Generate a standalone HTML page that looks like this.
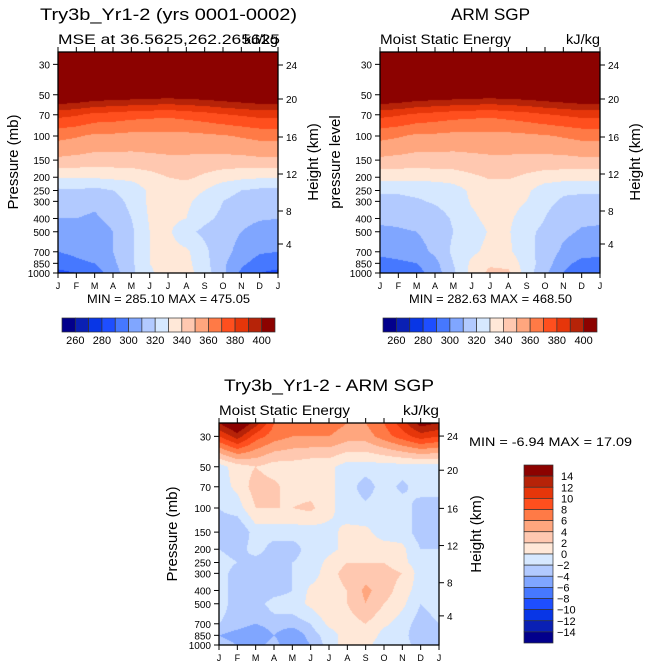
<!DOCTYPE html>
<html><head><meta charset="utf-8">
<style>
html,body{margin:0;padding:0;background:#fff;}
body{width:649px;height:669px;position:relative;overflow:hidden;font-family:"Liberation Sans",sans-serif;}
canvas{position:absolute;left:0;top:0;}
svg{position:absolute;left:0;top:0;}
</style></head>
<body>
<canvas id="cv" width="649" height="669"></canvas>
<svg id="sv" width="649" height="669"></svg>
<script>
const months = ['J','F','M','A','M','J','J','A','S','O','N','D','J'];
const levels = [1000,850,700,500,400,300,250,200,150,100,70,50,30,24];
const pressureTicks = [30,50,70,100,150,200,250,300,400,500,700,850,1000];
const heightTicks = [24,20,16,12,8,4];
const mseColorbarLabels = [260,280,300,320,340,360,380,400];
const diffColorbarLabels = [14,12,10,8,6,4,2,0,-2,-4,-6,-8,-10,-12,-14];
const mseThresholds = [260,270,280,290,300,310,320,330,340,350,360,370,380,390,400];
const diffThresholds = [-14,-12,-10,-8,-6,-4,-2,0,2,4,6,8,10,12,14];
const colors = ['#02008c','#0a20b4','#0836e6','#1e4eff','#4678ff','#80a6ff','#b2caff','#d6e8ff','#ffe8d8','#ffc8b0','#ffa67e','#ff7a46','#ff4f1e','#e6360a','#b62308','#8c0200'];

const modelMSE = [
 [287,290,295,305,318,328,336,334,325,312,298,290,287],
 [295,298,300,308,318,330,335,333,323,312,302,296,295],
 [300,302,305,310,318,330,334,332,322,314,306,301,300],
 [306,305,302,310,318,330,332,322,318,315,310,305,306],
 [310,310,308,314,320,331,333,330,322,318,314,311,310],
 [314,315,313,317,322,332,333,332,326,320,317,314,314],
 [318,319,317,320,323,332,334,334,330,323,320,318,318],
 [331,331,331,332,333,336,340,342,338,334,332,331,331],
 [348,347,346,346,346,347,348,348,347,347,347,348,348],
 [363,361,358,358,357,357,357,357,358,359,361,363,363],
 [383,381,377,376,374,373,372,374,376,379,381,383,383],
 [415,413,410,409,408,407,406,407,408,410,412,414,415],
 [455,455,455,455,455,455,455,455,455,455,455,455,455],
 [470,470,470,470,470,470,470,470,470,470,470,470,470]];
const obsMSE = [
 [292,294,296,305,318,333,343,342,325,312,300,292,292],
 [296,298,300,307,320,332,338,337,325,315,303,297,296],
 [303,304,306,312,322,328,333,332,323,316,308,304,303],
 [308,309,310,314,320,325,331,331,322,318,312,309,308],
 [312,312,313,316,321,328,333,332,325,320,315,312,312],
 [318,318,319,321,324,331,334,334,330,322,319,318,318],
 [321,321,322,322,325,332,335,335,332,324,321,321,321],
 [333,333,333,334,335,338,341,341,338,335,334,333,333],
 [348,347,346,346,346,347,348,348,347,347,347,348,348],
 [363,361,358,358,357,357,357,357,358,359,361,363,363],
 [383,381,378,376,374,373,372,374,376,379,381,383,383],
 [415,413,410,409,408,407,406,407,408,410,412,414,415],
 [455,455,455,455,455,455,455,455,455,455,455,455,455],
 [468,468,468,468,468,468,468,468,468,468,468,468,468]];
const diffMSE = [
 [-3,-4,-5,-3,-6,-4,-1,1,1,-2,-1,-3,-3],
 [-4,-5,-6,-4,-6,-3,-1,1,2,-1,-1,-4,-4],
 [-2,-3,-4,-3,-3,-2,0.5,1,2,0.5,-1,-3,-2],
 [-1,-3,-3,-1,-1,0.5,2,2,4,2,0.5,-2,-1],
 [-1,-3,-4,-3,-2,0.5,1,2,4.5,3,1,-1,-1],
 [-1,-3,-4,-3,-2,-1,1,3,3,3,2,-1,-1],
 [-1,-2,-3,-3,-2,-1,0.5,2,2,2,0.5,-1,-1],
 [-2,-3,-1,-3,-3,-1,-0.5,0.5,1,1,0.5,-2,-2],
 [-3,-4,-1,-1,-1,-1,-0.5,0.5,0.5,-1,-1,-3,-3],
 [-2,-1,2,2,2,2.5,0.5,-1,-1.5,-1,-1,-3,-3],
 [-1,0.5,3,2.5,1,1,0.5,-1,-3,-1,-2.5,-1,-1],
 [-1,1,2,1,1,0.5,0.5,-1,-1,-1,-1,-1,-1],
 [10,13,9,7,6,6,6,5,5,7,9,11,10],
 [14,17,13,8,7,7,7,6,6,8,11,15,14]];

const panels = [
 {x0:58,x1:278,y0:52,y1:273,data:modelMSE,thr:mseThresholds,name:'model'},
 {x0:380,x1:600,y0:52,y1:273,data:obsMSE,thr:mseThresholds,name:'obs'},
 {x0:219,x1:439,y0:423,y1:645,data:diffMSE,thr:diffThresholds,name:'diff'}];

const K = 59.5;
function yOf(p,P){return P.y1 - K*Math.log(1000/p);}
function xOf(m,P){return P.x0 + (P.x1-P.x0)*m/12;}
function colorFor(v,thr){let i=0;while(i<thr.length&&v>=thr[i])i++;return colors[i];}
const lnl=levels.map(l=>Math.log(1000/l));
function sample(P,px,py){
  const m=(px-P.x0)/(P.x1-P.x0)*12;
  const lp=(P.y1-py)/K;
  let r=0; while(r<levels.length-2 && lp>lnl[r+1]) r++;
  let ty=(lp-lnl[r])/(lnl[r+1]-lnl[r]); ty=Math.max(0,Math.min(1,ty));
  let c=Math.min(11,Math.floor(m)); let tx=m-c; tx=Math.max(0,Math.min(1,tx));
  const d=P.data;
  const a=d[r][c]*(1-tx)+d[r][c+1]*tx, b=d[r+1][c]*(1-tx)+d[r+1][c+1]*tx;
  return a*(1-ty)+b*ty;
}
const ctx=document.getElementById('cv').getContext('2d');
panels.forEach(P=>{
  for(let py=P.y0;py<P.y1;py+=1){for(let px=P.x0;px<P.x1;px+=1){
    ctx.fillStyle=colorFor(sample(P,px+0.5,py+0.5),P.thr);ctx.fillRect(px,py,1,1);}}
});

const NS='http://www.w3.org/2000/svg';
const sv=document.getElementById('sv');
function el(tag,attrs,txt){const e=document.createElementNS(NS,tag);for(const k in attrs)e.setAttribute(k,attrs[k]);if(txt!==undefined)e.textContent=txt;sv.appendChild(e);return e;}
function txt(x,y,s,size,anchor,name,rot,tl){
  const e=el('text',{x:x,y:y,'font-size':size,'text-anchor':anchor||'start',fill:'#000','font-family':'Liberation Sans, sans-serif'},s);
  if(rot)e.setAttribute('transform','rotate(-90 '+x+' '+y+')');
  if(tl){e.setAttribute('textLength',tl);e.setAttribute('lengthAdjust','spacingAndGlyphs');}
  
  
  return e;
}
const hY={24:65,20:99,16:137,12:174,8:211,4:244};
panels.forEach((P,pi)=>{
  const fr=el('rect',{x:P.x0,y:P.y0,width:P.x1-P.x0,height:P.y1-P.y0,fill:'none',stroke:'#000','stroke-width':1.3});
  
  
  months.forEach((m,i)=>{
    const x=xOf(i,P);
    const t1=el('line',{x1:x,x2:x,y1:P.y0,y2:P.y0-5,stroke:'#000'});
    
    
    const t2=el('line',{x1:x,x2:x,y1:P.y1,y2:P.y1+5,stroke:'#000'});
    
    
    txt(x,P.y1+16,m,9,'middle','month-label');
  });
  pressureTicks.forEach(p=>{
    const y=yOf(p,P);
    const t=el('line',{x1:P.x0,x2:P.x0-5,y1:y,y2:y,stroke:'#000'});
    
    
    txt(P.x0-8,y+4,String(p),10,'end','pressure-label');
  });
  heightTicks.forEach(h=>{
    const y=P.y1-(P.y1-P.y0)*(273-hY[h])/221;
    const t=el('line',{x1:P.x1,x2:P.x1+5,y1:y,y2:y,stroke:'#000'});
    
    
    txt(P.x1+8,y+4,String(h),10,'start','height-label');
  });
});
// titles
txt(40,20,'Try3b_Yr1-2 (yrs 0001-0002)',17,'start','panel1-title',false,257);
txt(58,44,'MSE at 36.5625,262.265625',13.5,'start','panel1-subtitle',false,222);
txt(278,44,'kJ/kg',13.5,'end','panel1-units',false,34);
txt(451,20,'ARM SGP',17,'start','panel2-title',false,79);
txt(380,44,'Moist Static Energy',13.5,'start','panel2-subtitle',false,131);
txt(600,44,'kJ/kg',13.5,'end','panel2-units',false,34);
txt(224,391,'Try3b_Yr1-2 - ARM SGP',17,'start','panel3-title',false,210);
txt(219,415,'Moist Static Energy',13.5,'start','panel3-subtitle',false,131);
txt(439,415,'kJ/kg',13.5,'end','panel3-units',false,36);
txt(87,303,'MIN = 285.10 MAX = 475.05',12,'start','panel1-minmax',false,163);
txt(409,303,'MIN = 282.63 MAX = 468.50',12,'start','panel2-minmax',false,163);
txt(469,446,'MIN =   -6.94  MAX =   17.09',11.5,'start','panel3-minmax',false,163);
txt(18,162,'Pressure (mb)',15,'middle','panel1-y-title',true);
txt(318,162,'Height (km)',15,'middle','panel1-right-title',true);
txt(340,162,'pressure level',15,'middle','panel2-y-title',true);
txt(640,162,'Height (km)',15,'middle','panel2-right-title',true);
txt(177,534,'Pressure (mb)',15,'middle','panel3-y-title',true);
txt(481,534,'Height (km)',15,'middle','panel3-right-title',true);
// horizontal colorbars
[[62,275,'panel1'],[383,597,'panel2']].forEach(cb=>{
  const w=(cb[1]-cb[0])/16;
  colors.forEach((c,i)=>{
    const r=el('rect',{x:cb[0]+i*w,y:318,width:w,height:14,fill:c,stroke:'#333','stroke-width':0.7});
    
    
  });
  mseColorbarLabels.forEach((v,j)=>{
    txt(cb[0]+(2*j+1)*w,344,String(v),11,'middle',cb[2]+'-colorbar-label');
  });
});
// vertical colorbar
const vh=(643-465)/16;
colors.slice().reverse().forEach((c,i)=>{
  const r=el('rect',{x:524,y:465+i*vh,width:29,height:vh,fill:c,stroke:'#333','stroke-width':0.7});
  
  
});
diffColorbarLabels.forEach((v,i)=>{
  const s=v<0?'\u2212'+(-v):String(v);
  txt(v<0?557:561,465+(i+1)*vh+4,s,11,'start','diff-colorbar-label');
});
</script>
</body></html>
